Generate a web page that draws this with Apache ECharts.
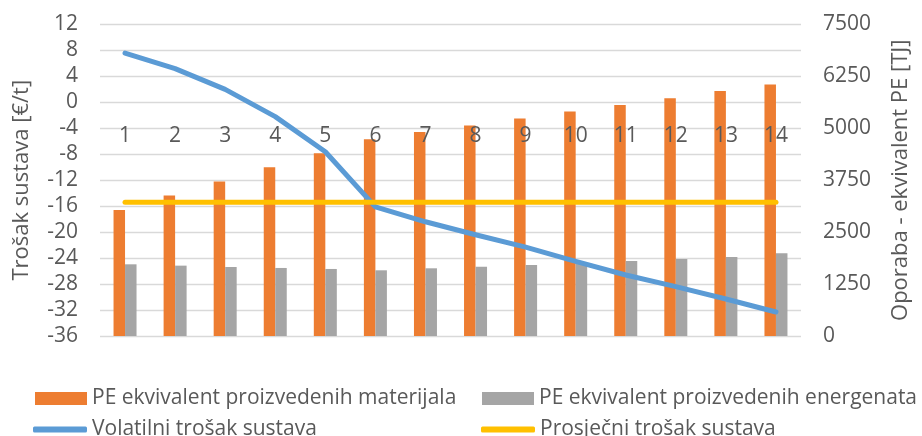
<!DOCTYPE html>
<html>
<head>
<meta charset="utf-8">
<script src="https://cdn.jsdelivr.net/npm/echarts@6/dist/echarts.min.js"></script>
<style>
  html, body { margin: 0; padding: 0; background: #fff; }
  #chart { width: 922px; height: 436px; }
</style>
</head>
<body>
<div id="chart"></div>
<script>
// Scenario numbers on the category axis
const categories = ['1', '2', '3', '4', '5', '6', '7', '8', '9', '10', '11', '12', '13', '14'];

// Recovery, PE equivalent [TJ] (right axis)
const peMaterijali = [3035, 3380, 3717, 4062, 4400, 4737, 4913, 5066, 5234, 5403, 5564, 5724, 5901, 6053];
const peEnergenti = [1726, 1694, 1662, 1638, 1614, 1582, 1630, 1670, 1710, 1766, 1806, 1855, 1903, 1991];

// System cost [€/t] (left axis)
const volatilniTrosak = [7.6, 5.2, 2.0, -2.2, -7.6, -16.1, -18.4, -20.4, -22.3, -24.5, -26.6, -28.4, -30.3, -32.3];
const prosjecniTrosak = [-15.4, -15.4, -15.4, -15.4, -15.4, -15.4, -15.4, -15.4, -15.4, -15.4, -15.4, -15.4, -15.4, -15.4];

// Axis ranges
const costMin = -36, costMax = 12, costStep = 4;
const peMin = 0, peMax = 7500, peStep = 1250;

const names = [
  'PE ekvivalent proizvedenih materijala',
  'PE ekvivalent proizvedenih energenata',
  'Volatilni trošak sustava',
  'Prosječni trošak sustava'
];

const FONT = '"Open Sans", sans-serif';
const TEXT = '#595959';
const GRID = '#d9d9d9';
const AXIS_FS = 21;
const LEGEND_FS = 21;

const GRID_TOP = 24.5, GRID_H = 311.5;
// the category axis crosses the cost axis at zero
const zeroOffset = GRID_H * costMax / (costMax - costMin);

const chart = echarts.init(document.getElementById('chart'), null, { renderer: 'canvas' });

function legendItem(name, left, top, isBar) {
  return {
    data: [name],
    left: left,
    top: top,
    orient: 'horizontal',
    icon: isBar ? 'rect' : 'roundRect',
    itemWidth: isBar ? 52 : 54,
    itemHeight: isBar ? 13 : 6,
    selectedMode: false,
    textStyle: { color: TEXT, fontFamily: FONT, fontSize: LEGEND_FS }
  };
}

chart.setOption({
  animation: false,
  backgroundColor: '#ffffff',
  grid: {
    left: 100, top: GRID_TOP, width: 701, height: GRID_H,
    containLabel: false,
    outerBoundsMode: 'none'
  },
  legend: [
    legendItem(names[0], 30, 383, true),
    legendItem(names[1], 477, 383, true),
    legendItem(names[2], 28, 414, false),
    legendItem(names[3], 476, 414, false)
  ],
  xAxis: {
    type: 'category',
    data: categories,
    boundaryGap: true,
    position: 'top',
    offset: -zeroOffset,
    z: 20,
    axisLine: { show: false },
    axisTick: { show: false },
    axisLabel: { inside: true, color: TEXT, fontFamily: FONT, fontSize: AXIS_FS, margin: 23 },
    splitLine: { show: false }
  },
  yAxis: [
    {
      type: 'value',
      min: costMin, max: costMax, interval: costStep,
      name: 'Trošak sustava [€/t]',
      nameLocation: 'middle',
      nameRotate: 90,
      nameGap: 67,
      nameTextStyle: { color: TEXT, fontFamily: FONT, fontSize: 22 },
      axisLine: { show: false },
      axisTick: { show: false },
      axisLabel: { color: TEXT, fontFamily: FONT, fontSize: AXIS_FS, margin: 22 },
      splitLine: { show: true, lineStyle: { color: GRID, width: 1.3 } }
    },
    {
      type: 'value',
      min: peMin, max: peMax, interval: peStep,
      position: 'right',
      name: 'Oporaba - ekvivalent PE [TJ]',
      nameLocation: 'middle',
      nameRotate: 90,
      nameGap: 89,
      nameTextStyle: { color: TEXT, fontFamily: FONT, fontSize: 22 },
      axisLine: { show: false },
      axisTick: { show: false },
      axisLabel: {
        color: TEXT, fontFamily: FONT, fontSize: AXIS_FS, margin: 22,
        formatter: function (v) { return String(v); }
      },
      splitLine: { show: false }
    }
  ],
  series: [
    {
      name: names[0], type: 'bar', yAxisIndex: 1,
      data: peMaterijali,
      barWidth: 11.5, barGap: '0%',
      itemStyle: { color: '#ED7D31' },
      z: 2
    },
    {
      name: names[1], type: 'bar', yAxisIndex: 1,
      data: peEnergenti,
      barWidth: 11.5, barGap: '0%',
      itemStyle: { color: '#A5A5A5' },
      z: 2
    },
    {
      name: names[2], type: 'line', yAxisIndex: 0,
      data: volatilniTrosak,
      symbol: 'none',
      lineStyle: { color: '#5B9BD5', width: 5, cap: 'round', join: 'round' },
      itemStyle: { color: '#5B9BD5' },
      z: 3
    },
    {
      name: names[3], type: 'line', yAxisIndex: 0,
      data: prosjecniTrosak,
      symbol: 'none',
      lineStyle: { color: '#FFC000', width: 5, cap: 'round', join: 'round' },
      itemStyle: { color: '#FFC000' },
      z: 4
    }
  ]
});
</script>
</body>
</html>
